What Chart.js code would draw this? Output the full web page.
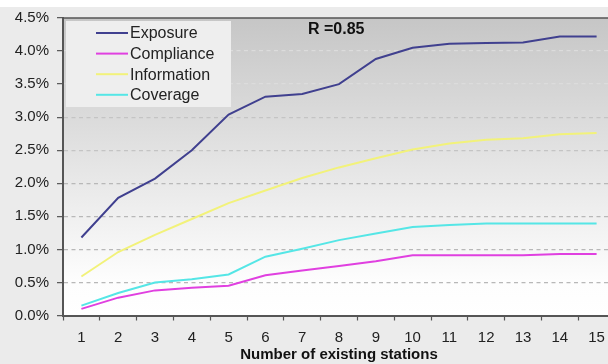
<!DOCTYPE html>
<html><head><meta charset="utf-8">
<script src="https://cdn.jsdelivr.net/npm/chart.js@4.4.1/dist/chart.umd.min.js"></script>
<style>
html,body{margin:0;padding:0;background:#ebebeb;overflow:hidden;width:608px;height:364px;}
#wrap{position:relative;width:620px;height:364px;}
</style></head><body>
<div id="wrap"><canvas id="c" width="620" height="364"></canvas></div>
<script>
const categories = ['1','2','3','4','5','6','7','8','9','10','11','12','13','14','15'];
const exposure    = [1.18,1.78,2.07,2.50,3.04,3.31,3.35,3.50,3.88,4.05,4.11,4.12,4.13,4.22,4.22];
const compliance  = [0.10,0.27,0.38,0.42,0.45,0.61,0.68,0.75,0.82,0.91,0.91,0.91,0.91,0.93,0.93];
const information = [0.59,0.96,1.22,1.46,1.70,1.89,2.08,2.24,2.38,2.51,2.60,2.66,2.68,2.74,2.76];
const coverage    = [0.15,0.34,0.50,0.55,0.62,0.89,1.01,1.14,1.24,1.34,1.37,1.39,1.39,1.39,1.39];
const seriesNames = ['Exposure','Compliance','Information','Coverage'];
const seriesColors = ['#40408f','#e040e0','#f2f27a','#55e6e6'];
const yMin = 0, yMax = 4.5, yStep = 0.5;
const annotationText = 'R =0.85';
const xTitle = 'Number of existing stations';

const FONT = "'Liberation Sans', Arial, sans-serif";

const bgPlugin = {
  id: 'bg',
  beforeDraw(chart) {
    const {ctx, chartArea: a} = chart;
    ctx.save();
    ctx.fillStyle = '#ebebeb';
    ctx.fillRect(0, 0, chart.width, chart.height);
    ctx.fillStyle = '#ffffff';
    ctx.fillRect(0, 0, chart.width, 7);
    const g = ctx.createLinearGradient(0, a.top, 0, a.bottom);
    g.addColorStop(0, '#c6c6c6');
    g.addColorStop(0.88, '#fdfdfd');
    g.addColorStop(1, '#ffffff');
    ctx.fillStyle = g;
    ctx.fillRect(a.left, a.top, a.right - a.left, a.bottom - a.top);
    ctx.restore();
  }
};

const decoPlugin = {
  id: 'deco',
  afterDraw(chart) {
    const {ctx, chartArea: a} = chart;
    ctx.save();
    ctx.strokeStyle = '#555';
    ctx.lineWidth = 1.5;
    ctx.beginPath();
    ctx.moveTo(a.left, a.top);
    ctx.lineTo(a.right, a.top);
    ctx.stroke();
    ctx.fillStyle = '#eeeeee';
    ctx.fillRect(66, 21, 165, 86);
    ctx.font = '16px ' + FONT;
    ctx.textBaseline = 'middle';
    ctx.textAlign = 'left';
    chart.data.datasets.forEach((ds, i) => {
      const y = 33 + i * 20.6;
      ctx.strokeStyle = ds.borderColor;
      ctx.lineWidth = 2;
      ctx.beginPath();
      ctx.moveTo(96, y);
      ctx.lineTo(128, y);
      ctx.stroke();
      ctx.fillStyle = '#222';
      ctx.fillText(ds.label, 130, y + 1);
    });
    ctx.font = 'bold 16px ' + FONT;
    ctx.fillStyle = '#111';
    ctx.fillText(annotationText, 308, 29.5);
    ctx.restore();
  }
};

const seriesData = [exposure, compliance, information, coverage];

new Chart(document.getElementById('c'), {
  type: 'line',
  data: {
    labels: categories,
    datasets: seriesData.map((d, i) => ({
      label: seriesNames[i],
      data: d,
      borderColor: seriesColors[i],
      backgroundColor: seriesColors[i],
      borderWidth: 2,
      pointRadius: 0,
      tension: 0,
      fill: false
    }))
  },
  options: {
    responsive: false,
    animation: false,
    devicePixelRatio: 1,
    layout: {padding: {top: 18, right: 5, left: 0, bottom: 0}},
    plugins: {legend: {display: false}, tooltip: {enabled: false}},
    scales: {
      x: {
        type: 'category',
        offset: true,
        grid: {offset: true, drawOnChartArea: false, drawTicks: true, tickLength: 5, tickColor: '#555', tickWidth: 1.2},
        border: {display: true, color: '#555', width: 2},
        ticks: {color: '#222', font: {family: FONT, size: 15}, padding: 8, maxRotation: 0, autoSkip: false},
        title: {display: true, text: xTitle, color: '#111', font: {family: FONT, size: 15, weight: 'bold'}, padding: {top: 0, bottom: 0}},
        afterFit(s) { s.height = 48.5; }
      },
      y: {
        min: yMin, max: yMax,
        ticks: {stepSize: yStep, color: '#222', font: {family: FONT, size: 15}, padding: 8,
          callback: v => v.toFixed(1) + '%'},
        grid: {
          color: c => {
            if (!c.tick || c.tick.value === yMin || c.tick.value === yMax) return 'rgba(0,0,0,0)';
            return c.tick.value >= 3.5 ? '#dcdcdc' : (c.tick.value >= 2.5 ? '#c4c4c4' : '#b8b8b8');
          },
          lineWidth: 1.3, tickLength: 6, tickColor: '#555', tickWidth: 1.2
        },
        border: {display: true, color: '#555', width: 2, dash: [4, 3.5]},
        afterFit(s) { s.width = 63; }
      }
    }
  },
  plugins: [bgPlugin, decoPlugin]
});
</script>
</body></html>
